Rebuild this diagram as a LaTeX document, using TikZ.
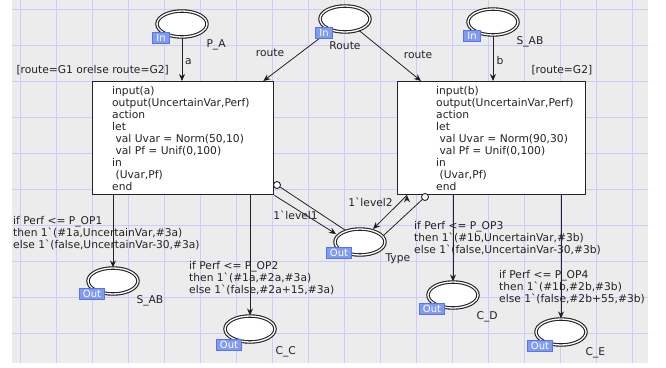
\documentclass[tikz,border=0pt]{standalone}
\usepackage{fontspec}
\newfontfamily\cpnfont{DejaVu Sans}
\usetikzlibrary{arrows.meta,shapes.geometric}
\definecolor{sheet}{RGB}{236,236,236}
\definecolor{gridline}{RGB}{204,204,250}
\definecolor{ink}{RGB}{35,35,35}
\definecolor{tagfill}{RGB}{128,156,240}
\definecolor{tagedge}{RGB}{88,116,230}
\newcommand\cpnind{\hspace*{3.4pt}}

\begin{document}
\begin{tikzpicture}[x=1pt,y=-1pt,>={Stealth[length=7pt,width=6pt]},
  every node/.style={font=\cpnfont\fontsize{10.7}{12}\selectfont,text=ink},
  place/.style={ellipse,draw=ink,fill=white,double=white,double distance=1.3pt,line width=1.1pt,minimum width=50pt,minimum height=26pt,inner sep=0pt},
  trans/.style={rectangle,draw=ink,fill=white,line width=1.3pt,anchor=north west,inner sep=0pt,minimum height=113pt},
  code/.style={align=left,anchor=north west,inner sep=0pt},
  port/.style={rectangle,fill=tagfill,draw=tagedge,line width=0.6pt,text=white,inner sep=0pt,minimum height=10.5pt,minimum width=#1,font=\cpnfont\fontsize{10}{10}\selectfont},
  arc/.style={draw=ink,line width=0.8pt},
  hollow/.style={circle,draw=ink,fill=white,line width=0.9pt,minimum size=7pt,inner sep=0pt}]
  \useasboundingbox (0,0) rectangle (666,367);
  \fill[sheet] (12,0) rectangle (648,363);
  \foreach \gx in {20,56,...,632} \draw[gridline,line width=0.7pt] (\gx,0) -- (\gx,363);
  \foreach \gy in {9,45,...,333} \draw[gridline,line width=0.7pt] (12,\gy) -- (648,\gy);

  \node[place] (pA) at (182,24) {};
  \node[place] (rt) at (345,19) {};
  \node[place] (sIn) at (493,22) {};
  \node[place] (sOut) at (113,281) {};
  \node[place] (ty) at (360,242) {};
  \node[place] (cC) at (250,329) {};
  \node[place] (cD) at (453,295) {};
  \node[place] (cE) at (561,332) {};

  \node[trans,minimum width=181pt] (tA) at (92,81) {};
  \node[trans,minimum width=188pt] (tB) at (397,81) {};
  \node[code] (codeA) at (112,86) {input(a)\\output(UncertainVar,Perf)\\action\\let\\\cpnind val Uvar = Norm(50,10)\\\cpnind val Pf = Unif(0,100)\\in\\\cpnind (Uvar,Pf)\\end};
  \node[code] (codeB) at (436,86) {input(b)\\output(UncertainVar,Perf)\\action\\let\\\cpnind val Uvar = Norm(90,30)\\\cpnind val Pf = Unif(0,100)\\in\\\cpnind (Uvar,Pf)\\end};

  \node[hollow] (h1) at (277,185) {};
  \node[hollow] (h2) at (425,197) {};

  \path[arc,->]
    (pA) edge (pA |- tA.north)
    (rt) edge ([xshift=-11pt]tA.north east)
    (rt) edge ([xshift=24pt]tB.north west)
    (sIn) edge (sIn |- tB.north)
    (sOut |- tA.south) edge (sOut)
    (cC |- tA.south) edge (cC)
    (cD |- tB.south) edge (cD)
    (cE |- tB.south) edge (cE)
    (tA.south east) edge ([shift={(-24,-8)}]ty.center)
    ([xshift=10pt]tB.south west) edge ([shift={(13,-13)}]ty.center)
    (h1) edge[-] ([shift={(-15,-12)}]ty.center)
    (h2) edge[-] ([shift={(24,-7)}]ty.center);

  \node[port=17pt] at ([shift={(-21,14)}]pA.center) {In};
  \node[port=17pt] at ([shift={(-21,14)}]rt.center) {In};
  \node[port=17pt] at ([shift={(-21,14)}]sIn.center) {In};
  \node[port=25pt] at ([shift={(-21,13)}]sOut.center) {Out};
  \node[port=25pt] at ([shift={(-21,11)}]ty.center) {Out};
  \node[port=25pt] at ([shift={(-21,16)}]cC.center) {Out};
  \node[port=25pt] at ([shift={(-21,14)}]cD.center) {Out};
  \node[port=25pt] at ([shift={(-21,14)}]cE.center) {Out};

  \node[anchor=west] at ([shift={(21,21)}]pA.center) {P\_A};
  \node at ([shift={(0,27)}]rt.center) {Route};
  \node[anchor=west] at ([shift={(20,20)}]sIn.center) {S\_AB};
  \node[anchor=west] at ([shift={(20,20)}]sOut.center) {S\_AB};
  \node[anchor=west] at ([shift={(22,17)}]ty.center) {Type};
  \node[anchor=west] at ([shift={(22,23)}]cC.center) {C\_C};
  \node[anchor=west] at ([shift={(20,22)}]cD.center) {C\_D};
  \node[anchor=west] at ([shift={(21,21)}]cE.center) {C\_E};

  \node at (188.5,62) {a};
  \node at (500,61) {b};
  \node at (270,53) {route};
  \node at (418,55) {route};
  \node at (295.5,215) {1`level1};
  \node at (370.5,202) {1`level2};
  \node[anchor=west] at (13,70) {[route=G1 orelse route=G2]};
  \node[anchor=west] at (528,70) {[route=G2]};

  \node[code] at (13,216) {if Perf <= P\_OP1\\then 1`(\#1a,UncertainVar,\#3a)\\else 1`(false,UncertainVar-30,\#3a)};
  \node[code] at (189,261) {if Perf <= P\_OP2\\then 1`(\#1a,\#2a,\#3a)\\else 1`(false,\#2a+15,\#3a)};
  \node[code] at (414,221) {if Perf <= P\_OP3\\then 1`(\#1b,UncertainVar,\#3b)\\else 1`(false,UncertainVar-30,\#3b)};
  \node[code] at (499,270) {if Perf <= P\_OP4\\then 1`(\#1b,\#2b,\#3b)\\else 1`(false,\#2b+55,\#3b)};
\end{tikzpicture}
\end{document}
